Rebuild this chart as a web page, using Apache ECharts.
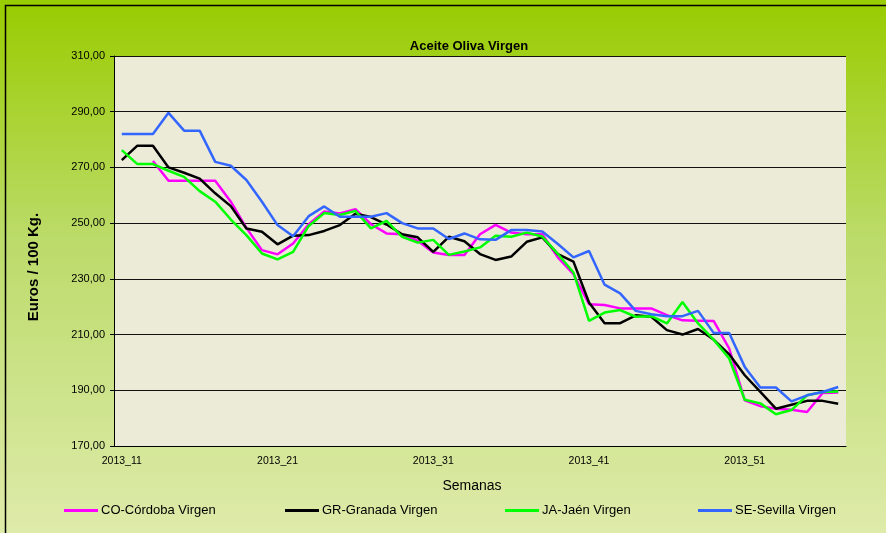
<!DOCTYPE html>
<html>
<head>
<meta charset="utf-8">
<script src="https://cdn.jsdelivr.net/npm/echarts@6/dist/echarts.min.js"></script>
<style>html,body{margin:0;padding:0;}#c{width:886px;height:533px;}</style>
</head>
<body>
<div id="c"></div>
<script>
const weeks = [];
for (let w = 11; w <= 52; w++) weeks.push('2013_' + w);
for (let w = 1; w <= 5; w++) weeks.push('2014_' + (w < 10 ? '0' + w : w));

const cordoba = [null, null, 272.3, 265.2, 265.2, 265.2, 265.2, 257.7, 248.3, 240.3, 238.8, 242.7, 249.6, 254.2, 253.5, 255, 249.6, 246.3, 246, 243.7, 239.5, 238.6, 238.6, 246, 249.4, 246.6, 246, 246, 237.7, 231.7, 220.9, 220.6, 219.4, 219.4, 219.4, 217, 215.1, 215, 214.9, 205, 186.4, 184.3, 183.4, 183, 182.2, 189, 189.2];
const granada = [272.6, 277.8, 277.8, 270, 268.1, 266, 260.7, 256.1, 248.1, 246.9, 242.4, 245.5, 245.7, 247.2, 249.3, 253.4, 252.2, 249.5, 246, 244.9, 239.7, 245.1, 243.5, 238.9, 236.8, 238, 243.3, 244.9, 238.9, 236.2, 221.5, 214.1, 214.1, 216.9, 216.4, 211.6, 210, 212, 208.2, 202.9, 195.4, 189.4, 183.4, 184.8, 186.2, 186.2, 185.2];
const jaen = [276.2, 271.2, 271.2, 268.8, 266.6, 261.5, 257.7, 251.3, 245.7, 239.1, 237, 239.7, 249, 253.6, 252.9, 254.4, 248.1, 250.8, 245.1, 243, 244, 238.6, 239.8, 241.3, 245.5, 245.1, 246.6, 245.2, 238.9, 232.3, 214.9, 217.9, 218.8, 216.4, 216.6, 214, 221.7, 214, 208.2, 201.4, 186.6, 185.3, 181.4, 182.9, 188.2, 189.4, 189.6];
const sevilla = [282, 282, 282, 289.6, 283.2, 283.2, 272, 270.6, 265.5, 257.7, 249.3, 245.3, 252.5, 256, 252.3, 252.3, 252.3, 253.6, 250, 248.1, 248.1, 244.3, 246.3, 244.2, 244, 247.5, 247.5, 247, 242.5, 237.7, 240, 227.9, 224.8, 218.5, 217.3, 216.6, 216.6, 218.5, 210.6, 210.6, 198.4, 191, 191, 186, 188.2, 189.4, 191.2];

const seriesNames = ['CO-Córdoba Virgen', 'GR-Granada Virgen', 'JA-Jaén Virgen', 'SE-Sevilla Virgen'];
const seriesColors = ['#FF00FF', '#000000', '#00FF00', '#3366FF'];
const seriesData = [cordoba, granada, jaen, sevilla];
const legendLeft = [64, 285, 505, 698];

const FONT = 'Liberation Sans, Arial, sans-serif';
const chart = echarts.init(document.getElementById('c'), null, {renderer: 'canvas'});
chart.setOption({
  animation: false,
  backgroundColor: {
    type: 'linear', x: 0, y: 0, x2: 0, y2: 1,
    colorStops: [
      {offset: 0, color: '#99CC00'},
      {offset: 0.45, color: '#BCDB6A'},
      {offset: 1, color: '#DEEBAA'}
    ]
  },
  title: {
    text: 'Aceite Oliva Virgen',
    left: 464, top: 35, textAlign: 'center',
    textStyle: {fontFamily: FONT, fontSize: 13, fontWeight: 'bold', color: '#000'}
  },
  graphic: [{
    type: 'rect', left: 3, top: 3, silent: true,
    shape: {width: 882, height: 545},
    style: {fill: 'none', stroke: '#000', lineWidth: 1.5}
  }, {
    type: 'text', x: 34, y: 267, rotation: Math.PI / 2, silent: true,
    style: {
      text: 'Euros / 100 Kg.', fill: '#000',
      font: 'bold 15px Liberation Sans, Arial, sans-serif',
      textAlign: 'center', textVerticalAlign: 'middle'
    }
  }],
  legend: seriesNames.map((n, k) => ({
    left: legendLeft[k], top: 504, padding: 0,
    itemWidth: 34, itemHeight: 3, itemGap: 4,
    icon: 'rect',
    textStyle: {fontFamily: FONT, fontSize: 13, color: '#000', padding: [0, 0, 0, -2]},
    data: [n]
  })),
  grid: {
    left: 114, right: 40, top: 56, bottom: 87,
    show: true, backgroundColor: '#EBEBD8', borderWidth: 0
  },
  xAxis: {
    type: 'category', data: weeks, boundaryGap: true,
    name: 'Semanas', nameLocation: 'middle', nameGap: 33,
    nameTextStyle: {fontFamily: FONT, fontSize: 14, color: '#000', padding: [0, 0, 0, -16]},
    axisLine: {lineStyle: {color: '#000', width: 1}},
    axisTick: {interval: 9, length: 4, lineStyle: {color: '#000'}},
    axisLabel: {interval: 9, fontFamily: FONT, fontSize: 10.5, color: '#000', margin: 10}
  },
  yAxis: {
    type: 'value', min: 170, max: 310, interval: 20,
    axisLine: {show: true, lineStyle: {color: '#000', width: 1}},
    axisTick: {show: true, length: 4, lineStyle: {color: '#000'}},
    axisLabel: {
      fontFamily: FONT, fontSize: 11, color: '#000', margin: 9,
      formatter: v => v.toFixed(2).replace('.', ',')
    },
    splitLine: {lineStyle: {color: '#111', width: 1}}
  },
  series: seriesNames.map((n, k) => ({
    name: n, type: 'line', data: seriesData[k],
    showSymbol: false, symbol: 'none',
    color: seriesColors[k],
    lineStyle: {width: 2.5, color: seriesColors[k]},
    connectNulls: false
  }))
});
</script>
</body>
</html>
